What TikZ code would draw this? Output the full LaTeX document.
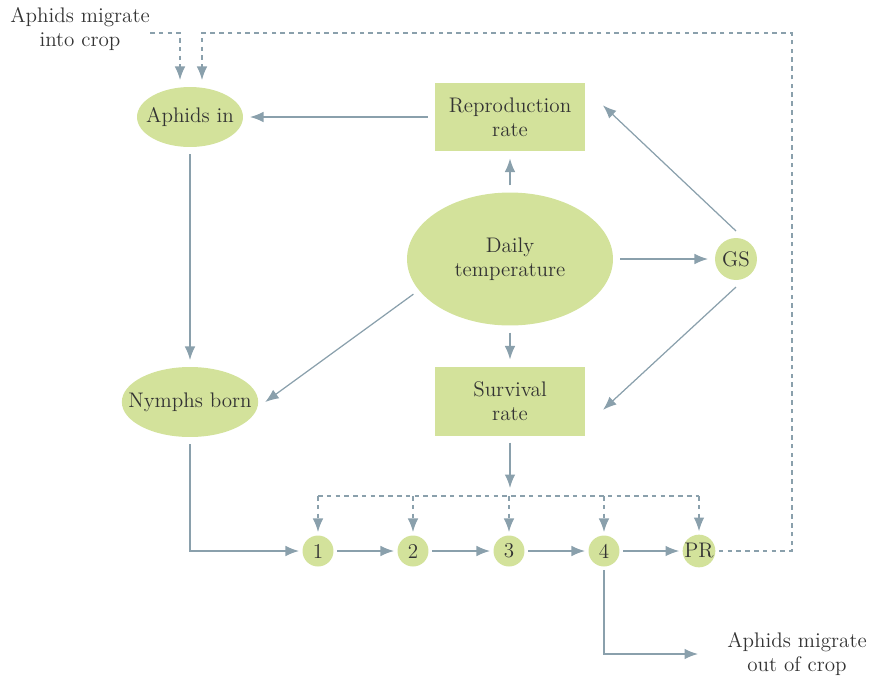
\documentclass[tikz,border=0pt]{standalone}
\usepackage{tikz}
\usetikzlibrary{arrows.meta,shapes.geometric}
\definecolor{leaf}{HTML}{D3E29B}
\definecolor{wire}{HTML}{8AA0AC}
\definecolor{ink}{HTML}{333333}

\begin{document}
\begin{tikzpicture}[x=0.02cm, y=-0.02cm,
        every node/.style={text=ink, font=\fontsize{12}{13.5}\selectfont},
        blob/.style={ellipse, fill=leaf, align=center, inner sep=0pt, outer sep=4pt},
        rate/.style={rectangle, fill=leaf, align=center, minimum width=3cm, minimum height=1.38cm, outer sep=4pt},
        stage/.style={circle, fill=leaf, minimum size=0.62cm, inner sep=0pt, outer sep=2pt},
        link/.style={draw=wire, line width=0.7pt, -{Latex[length=2.7mm,width=2.1mm]}},
        migr/.style={link, dash pattern=on 2.6pt off 2.4pt}]
        \useasboundingbox (0,0) rectangle (877,677);

        % Main boxes
        \node[blob, inner xsep=-0.14cm, minimum width=2.12cm, minimum height=1.2cm] (in) at (190,117) {Aphids in};
        \node[rate] (repro) at (510,117) {Reproduction\\rate};
        \node[blob, minimum width=4.12cm, minimum height=2.66cm] (temp) at (510,259) {Daily\\temperature};
        \node[circle, fill=leaf, minimum size=0.84cm, inner sep=0pt, outer sep=4pt] (gs) at (736,259) {GS};
        \node[blob, inner xsep=-0.27cm, minimum width=2.68cm, minimum height=1.4cm] (nymph) at (190,402) {Nymphs born};
        \node[rate] (surv) at (510,401) {Survival\\rate};

        % Stages
        \foreach \n/\x/\t in {s1/318/1, s2/413/2, s3/509/3, s4/604/4, pr/699/PR}
            \node[stage] (\n) at (\x,551) {\t};

        % Migration texts
        \node[align=center] (migin) at (80,29) {Aphids migrate\\into crop};
        \node[align=center] (migout) at (797,654) {Aphids migrate\\out of crop};

        \coordinate (inleft) at (150,33);
        \coordinate (loopB) at (792,33);
        \coordinate (split) at (510,496);
        \coordinate (outend) at (698,654);

        % Connections
        \draw[link] (repro) -- (in);
        \draw[link] (in) -- (nymph);
        \draw[link] (temp) -- (repro);
        \draw[link] (temp) -- (surv);
        \draw[link] (temp) -- (gs);
        \draw[link, shorten >=0.3cm] (gs.north) -- ([yshift=0.44cm]repro.east);
        \draw[link, shorten >=0.3cm] (gs.south) -- ([yshift=-0.38cm]surv.east);
        \draw[link] (temp.200) -- (nymph.east);
        \draw[link, shorten >=0.16cm] (surv) -- (split);

        \draw[migr, -] (s1 |- split) -- (pr |- split);
        \foreach \s in {s1,s2,s3,s4,pr}
            \draw[migr] (\s |- split) -- (\s);

        \draw[link] (nymph) |- (s1);
        \draw[link] (s1) -- (s2);
        \draw[link] (s2) -- (s3);
        \draw[link] (s3) -- (s4);
        \draw[link] (s4) -- (pr);
        \draw[link] (s4) |- (outend);

        % Migration into crop
        \draw[migr] (inleft) -| ([xshift=-0.2cm]in.north);
        \draw[migr] (pr) -| (loopB) -| ([xshift=0.24cm]in.north);
    \end{tikzpicture}
\end{document}
